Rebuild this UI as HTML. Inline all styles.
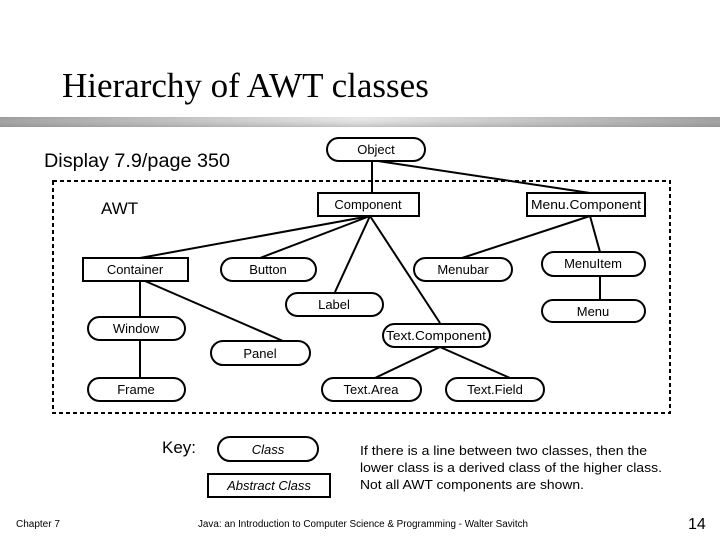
<!DOCTYPE html>
<html><head><meta charset="utf-8"><style>
html,body{margin:0;padding:0;background:#fff;width:720px;height:540px;overflow:hidden}
svg{display:block}
text{font-family:"Liberation Sans",sans-serif;fill:#000}
</style></head><body>
<svg width="720" height="540" viewBox="0 0 720 540">
<defs>
<linearGradient id="g" x1="0" x2="1" y1="0" y2="0">
<stop offset="0" stop-color="#9a9a9a"/><stop offset="0.5" stop-color="#e6e6e6"/><stop offset="1" stop-color="#9a9a9a"/>
</linearGradient>
<linearGradient id="gv" x1="0" x2="0" y1="0" y2="1">
<stop offset="0" stop-color="#fff" stop-opacity="0"/><stop offset="1" stop-color="#888" stop-opacity="0.4"/>
</linearGradient>
</defs>
<text x="62" y="97" style="font-family:'Liberation Serif',serif;font-size:35px">Hierarchy of AWT classes</text>
<rect x="0" y="117" width="720" height="10" fill="url(#g)"/>
<rect x="0" y="117" width="720" height="10" fill="url(#gv)"/>
<text x="44" y="167" font-size="19" textLength="186" lengthAdjust="spacingAndGlyphs">Display 7.9/page 350</text>
<rect x="53" y="181" width="617" height="232" fill="none" stroke="#000" stroke-width="2" stroke-dasharray="4,3"/>
<text x="101" y="214" font-size="17">AWT</text>
<g stroke="#000" stroke-width="2" fill="none">
<line x1="372" y1="161" x2="372" y2="193"/>
<line x1="378" y1="161" x2="590" y2="193"/>
<line x1="370" y1="216" x2="140" y2="258"/>
<line x1="370" y1="216" x2="260" y2="258"/>
<line x1="370" y1="216" x2="335" y2="292"/>
<line x1="370" y1="216" x2="440" y2="323"/>
<line x1="590" y1="216" x2="462" y2="258"/>
<line x1="590" y1="216" x2="600" y2="252"/>
<line x1="600" y1="276" x2="600" y2="300"/>
<line x1="140" y1="281" x2="140" y2="317"/>
<line x1="145" y1="281" x2="283" y2="341"/>
<line x1="140" y1="340" x2="140" y2="378"/>
<line x1="440" y1="347" x2="375" y2="378"/>
<line x1="440" y1="347" x2="510" y2="378"/>
</g>
<g stroke="#000" stroke-width="2" fill="#fff">
<rect x="327" y="138" width="98" height="23" rx="11.5"/>
<rect x="318" y="193" width="101" height="23"/>
<rect x="527" y="193" width="118" height="23"/>
<rect x="83" y="258" width="105" height="23"/>
<rect x="221" y="258" width="95" height="23" rx="11.5"/>
<rect x="414" y="258" width="98" height="23" rx="11.5"/>
<rect x="542" y="252" width="103" height="24" rx="12"/>
<rect x="286" y="293" width="97" height="23" rx="11.5"/>
<rect x="542" y="300" width="103" height="22" rx="11"/>
<rect x="88" y="317" width="97" height="23" rx="11.5"/>
<rect x="383" y="324" width="107" height="23" rx="11.5"/>
<rect x="211" y="341" width="99" height="24" rx="12"/>
<rect x="88" y="378" width="97" height="23" rx="11.5"/>
<rect x="322" y="378" width="99" height="23" rx="11.5"/>
<rect x="446" y="378" width="98" height="23" rx="11.5"/>
<rect x="218" y="437" width="100" height="24" rx="12"/>
<rect x="208" y="474" width="122" height="23"/>
</g>
<g font-size="13" text-anchor="middle">
<text x="376" y="154">Object</text>
<text x="368" y="209">Component</text>
<text x="586" y="209" textLength="110" lengthAdjust="spacingAndGlyphs">Menu.Component</text>
<text x="135" y="274">Container</text>
<text x="268" y="274">Button</text>
<text x="463" y="274">Menubar</text>
<text x="593" y="268">MenuItem</text>
<text x="334" y="309">Label</text>
<text x="593" y="316">Menu</text>
<text x="136" y="333">Window</text>
<text x="436" y="340" textLength="100" lengthAdjust="spacingAndGlyphs">Text.Component</text>
<text x="260" y="358">Panel</text>
<text x="136" y="394">Frame</text>
<text x="371" y="394">Text.Area</text>
<text x="495" y="394">Text.Field</text>
<text x="268" y="454" font-style="italic">Class</text>
<text x="269" y="490" font-style="italic">Abstract Class</text>
</g>
<text x="162" y="453" font-size="17">Key:</text>
<g font-size="13">
<text x="360" y="455" textLength="287" lengthAdjust="spacingAndGlyphs">If there is a line between two classes, then the</text>
<text x="360" y="472" textLength="302" lengthAdjust="spacingAndGlyphs">lower class is a derived class of the higher class.</text>
<text x="360" y="489" textLength="224" lengthAdjust="spacingAndGlyphs">Not all AWT components are shown.</text>
</g>
<text x="16" y="527" font-size="10">Chapter 7</text>
<text x="198" y="527" font-size="10" textLength="330" lengthAdjust="spacingAndGlyphs">Java: an Introduction to Computer Science &amp; Programming - Walter Savitch</text>
<text x="688" y="529" font-size="16">14</text>
</svg>
</body></html>
